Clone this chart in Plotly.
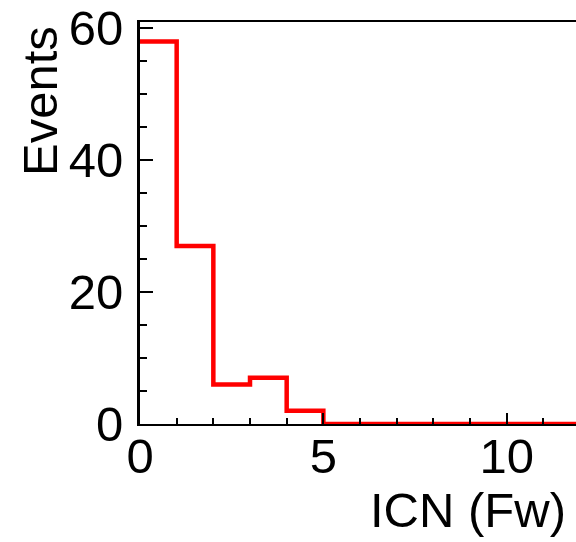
import plotly.graph_objects as go

# ICN (Fw) distribution, unit-width bins from 0 to 12
bin_edges = list(range(0, 13))
counts = [58, 27, 6, 7, 2, 0, 0, 0, 0, 0, 0, 0]

x_title = "ICN (Fw)"
y_title = "Events"
x_ticks = [0, 5, 10]
y_ticks = [0, 20, 40, 60]

W, H = 576, 542
L, T, R, B = 140, 22, 0, 118

# step outline: repeat the last count so the final bin is closed at its upper edge
step_y = counts + [counts[-1]]

fig = go.Figure()
fig.add_trace(go.Scatter(
    x=bin_edges, y=step_y, mode="lines",
    line=dict(color="#ff0000", width=4.5, shape="hv"),
    cliponaxis=False, hoverinfo="skip", showlegend=False,
))

font = dict(family="Liberation Sans, Arial, Helvetica, sans-serif", size=49, color="black")

fig.update_layout(
    width=W, height=H,
    margin=dict(l=L, r=R, t=T, b=B, pad=0),
    paper_bgcolor="white", plot_bgcolor="white",
    font=font,
    xaxis=dict(
        range=[0, 11.89], tickmode="array", tickvals=x_ticks,
        ticks="inside", ticklen=11, tickwidth=2, tickcolor="black",
        minor=dict(dtick=1, ticks="inside", ticklen=6, tickwidth=2, tickcolor="black"),
        showline=True, linecolor="black", linewidth=2, mirror=True,
        showgrid=False, zeroline=False, tickfont=font, ticklabelstandoff=-12,
    ),
    yaxis=dict(
        range=[0, 60.95], tickmode="array", tickvals=y_ticks,
        ticks="inside", ticklen=13, tickwidth=2, tickcolor="black",
        minor=dict(dtick=5, ticks="inside", ticklen=7, tickwidth=2, tickcolor="black"),
        showline=True, linecolor="black", linewidth=3,
        showgrid=False, zeroline=False, tickfont=font, ticklabelstandoff=4,
    ),
    annotations=[
        dict(text=x_title, xref="paper", yref="paper", x=(568 - L) / 436, y=(424 - 510) / 402,
             xanchor="right", yanchor="middle", showarrow=False, font=font),
        dict(text=y_title, xref="paper", yref="paper", x=(40 - L) / 436, y=(424 - 24) / 402,
             xanchor="center", yanchor="top", textangle=-90, showarrow=False, font=font),
    ],
)

fig.write_html("out.html")
